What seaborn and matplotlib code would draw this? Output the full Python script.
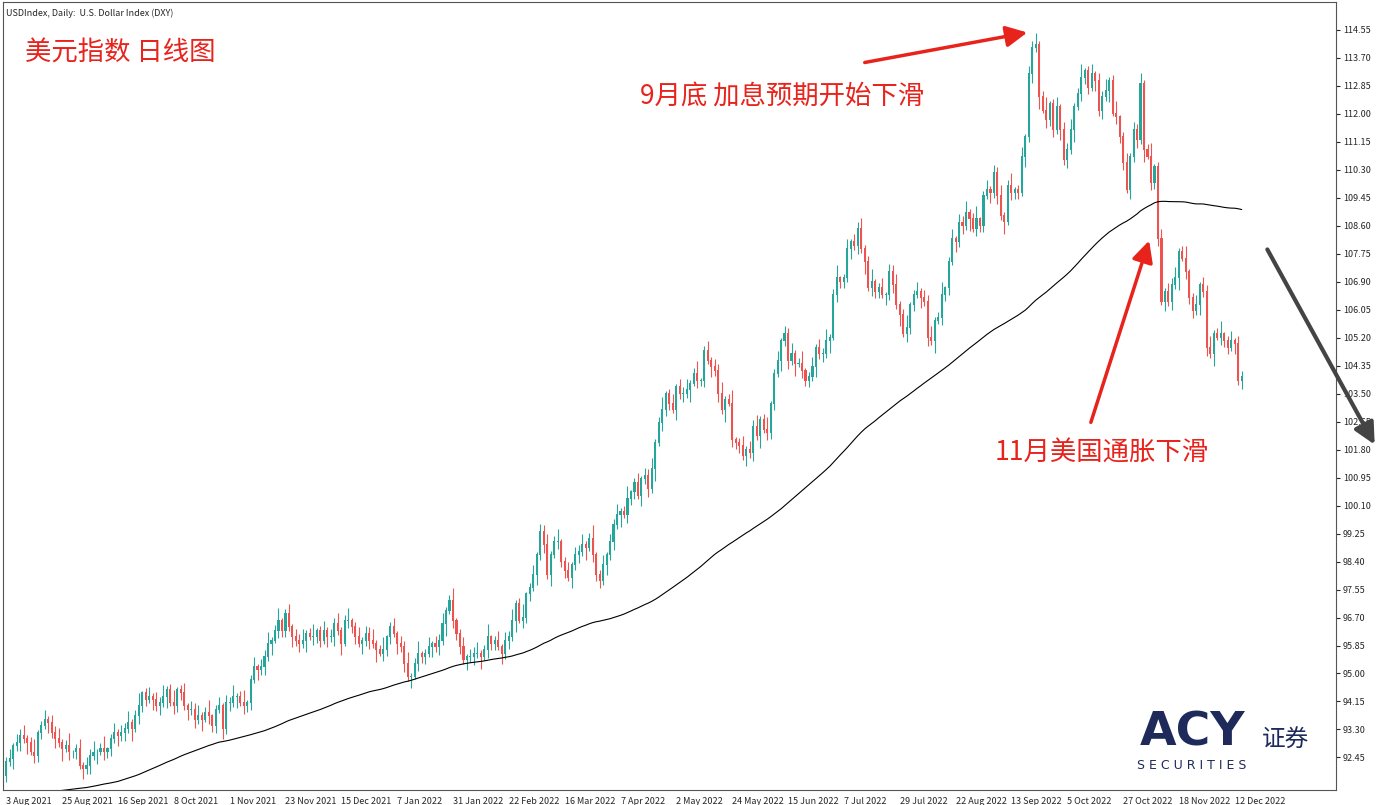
import numpy as np
import pandas as pd
import matplotlib
matplotlib.use("Agg")
import matplotlib.pyplot as plt
import seaborn as sns
from matplotlib.patches import FancyArrowPatch

# ---------------- data ----------------
history = [91.7,91.6,91.7,91.7,92.1,91.8,92.3,92.6,92.6,92.7,92.6,93.0,92.9,
           92.7,92.4,92.3,92.1,92.0,92.1,91.9,92.0,91.9,91.5,91.4,91.5,91.4,90.9,91.0,91.1,90.7,90.7,90.6,90.6,90.4,91.1,
           91.1,91.0,91.1,90.0,90.1,90.0,90.1,90.5,90.2,90.1,90.1,89.7,89.8,89.6,89.8,89.7,89.9,90.1,89.9,89.8,89.8,
           89.7,90.0,90.3,89.9,89.8,89.9,90.1,89.8,90.4,90.3,90.8,91.7,92.0,92.1,91.7,91.5,91.6,91.7,91.6,91.8,92.2,92.2,
           92.4,92.5,92.1,92.2,92.4,92.2,92.0,91.9,92.0,92.5,92.4,92.6,92.4,92.6,92.5,92.7,92.6,92.7,92.3,92.2,92.0,91.9]

closes = [
 92.3,92.4,92.8,92.9,93.1,93.0,92.9,92.6,92.5,93.2,93.4,93.6,93.5,93.2,93.0,92.9,92.7,92.8,92.6,92.6,92.7,
 92.2,92.1,92.2,92.5,92.6,92.6,92.7,92.6,92.7,93.0,93.2,93.1,93.2,93.3,93.5,93.3,93.7,94.0,94.4,94.2,94.3,94.2,
 94.0,94.1,94.3,94.5,94.1,94.0,94.5,94.4,94.0,93.9,93.9,93.6,93.7,93.6,93.8,93.7,93.4,93.9,94.0,93.3,94.1,
 94.1,94.3,94.3,94.1,94.0,94.1,94.8,95.2,95.1,95.2,95.5,95.9,96.0,96.3,96.6,96.3,96.8,96.4,96.1,96.0,95.9,96.0,
 96.2,96.1,96.1,96.3,96.0,96.3,96.1,96.1,96.5,96.3,95.9,96.6,96.6,96.4,96.1,95.9,96.0,96.2,96.0,95.9,95.7,95.6,
 95.7,96.1,96.4,96.2,95.9,95.8,95.3,94.9,94.9,95.3,95.6,95.5,95.6,95.8,95.9,95.8,96.0,96.5,96.9,97.2,96.6,
 96.2,95.8,95.4,95.5,95.5,95.6,95.6,95.5,95.7,96.1,95.9,96.0,95.8,95.6,96.0,96.1,96.6,97.1,96.6,96.7,
 97.4,97.6,98.0,98.6,99.3,98.9,98.0,98.6,99.0,99.0,98.4,98.1,97.9,98.3,98.6,98.7,98.9,98.8,99.1,98.6,98.0,97.8,98.3,
 98.6,99.0,99.5,99.8,99.9,99.8,100.3,100.5,100.8,100.4,100.9,101.0,100.6,101.2,102.0,102.6,103.0,103.5,103.2,103.0,
 103.7,103.5,103.5,103.6,103.8,104.1,103.9,103.9,104.8,104.5,104.3,104.2,103.5,103.0,103.3,103.2,102.1,102.0,101.9,101.6,101.8,101.7,
 102.5,102.2,102.7,102.4,102.3,103.2,104.1,104.5,105.1,105.3,104.5,104.7,104.4,104.4,104.2,103.9,104.0,104.3,104.9,104.7,104.7,105.1,
 105.2,106.5,107.0,106.9,107.0,107.9,108.1,108.0,108.5,107.9,107.5,106.7,106.9,106.6,106.7,106.5,106.5,107.2,106.8,106.2,105.9,
 105.3,105.5,106.2,106.5,106.6,106.4,106.3,105.2,105.1,105.7,105.8,106.5,106.7,107.5,108.2,108.1,108.7,108.6,109.0,108.8,108.5,108.8,108.6,
 109.5,109.7,109.6,110.2,109.5,108.9,108.7,109.8,109.6,109.7,109.6,110.7,111.3,113.2,114.0,114.1,112.5,112.1,111.8,112.3,111.5,112.2,
 111.5,110.6,110.9,111.5,112.2,112.6,113.1,113.3,112.8,113.2,113.0,112.1,112.5,112.7,113.0,112.0,111.9,111.3,110.5,109.7,110.7,
 111.5,111.2,112.9,110.9,110.7,109.9,110.4,108.2,106.3,106.6,106.3,106.8,107.0,107.8,107.6,107.2,106.4,106.0,106.2,106.8,106.6,104.9,
 104.7,105.3,105.2,105.3,105.1,104.9,105.1,105.0,103.9,104.0]

holidays = ["2021-12-24", "2022-04-15"]
wick_up = [0.15, 0.30, 0.10, 0.25, 0.20, 0.35, 0.12, 0.18, 0.40, 0.08]
wick_dn = [0.20, 0.10, 0.30, 0.15, 0.25, 0.12, 0.35, 0.08, 0.22, 0.18]
ma_period = 95

price_ticks = [92.45,93.30,94.15,95.00,95.85,96.70,97.55,98.40,99.25,100.10,100.95,101.80,102.65,
               103.50,104.35,105.20,106.05,106.90,107.75,108.60,109.45,110.30,111.15,112.00,112.85,113.70,114.55]

# ---------------- derived ----------------
n = len(closes)
dates = pd.bdate_range("2021-08-03", periods=n, freq="C", holidays=holidays)
idx = np.arange(n)
c = np.array(closes)
o = np.concatenate([[history[-1]], c[:-1]])
hi = np.maximum(o, c) + np.array([wick_up[i % len(wick_up)] for i in range(n)])
lo = np.minimum(o, c) - np.array([wick_dn[i % len(wick_dn)] for i in range(n)])
allc = pd.Series(history + closes)
ma = allc.rolling(ma_period).mean().values[len(history):]
df = pd.DataFrame({"i": idx, "ma": ma})

sns.set_style("white")
plt.rcParams['font.family'] = ['Noto Sans CJK SC', 'DejaVu Sans']

fig = plt.figure(figsize=(13.85, 8.05), dpi=100)
ax = fig.add_axes([0.002, 0.0186, 0.9626, 0.979])
up = c >= o
bull, bear = "#26a69a", "#ef5350"
cols = np.where(up, bull, bear)
ax.vlines(idx, lo, hi, colors=cols, linewidth=0.8)
ax.bar(idx, np.abs(c - o) + 0.03, bottom=np.minimum(o, c), width=0.6, color=cols, linewidth=0)
sns.lineplot(data=df, x="i", y="ma", ax=ax, color="black", linewidth=0.8)

ax.set_xlim(-1, 381)
ax.set_ylim(91.46, 115.4)
ax.yaxis.tick_right()
ax.set_yticks(price_ticks)
ax.set_yticklabels([f"{p:.2f}" for p in price_ticks], fontsize=6.5)
ticks = idx[::16]
ax.set_xticks(ticks)
ax.set_xticklabels([f"{d.day} {d.strftime('%b %Y')}" for d in dates[ticks]], fontsize=6.5, ha="left")
ax.tick_params(axis="both", length=3, pad=2)
ax.set_xlabel(""); ax.set_ylabel("")
for s in ax.spines.values():
    s.set_color("#555555"); s.set_linewidth(0.8)

red = "#e8231c"
fig.text(6/1385, 1-13/805, "USDIndex, Daily:  U.S. Dollar Index (DXY)", fontsize=6.5, va="center")
fig.text(25/1385, 1-53/805, "美元指数 日线图", fontsize=19, color=red, va="center")
fig.text(640/1385, 1-97/805, "9月底 加息预期开始下滑", fontsize=19, color=red, va="center")
fig.text(995/1385, 1-453/805, "11月美国通胀下滑", fontsize=19, color=red, va="center")

def farrow(x0, y0, x1, y1, color, lw):
    a = FancyArrowPatch((x0/1385, 1-y0/805), (x1/1385, 1-y1/805), transform=fig.transFigure,
                        arrowstyle=f"-|>,head_length=8,head_width=4", color=color, lw=lw, mutation_scale=1.6)
    fig.patches.append(a)
farrow(862, 63, 1030, 32, red, 2.5)
farrow(1090, 425, 1150, 238, red, 2.5)
farrow(1266, 247, 1376, 447, "#444444", 3)

fig.text(1140/1385, 1-733/805, "ACY", fontsize=34, color="#1d2a5a", fontweight="bold", va="center", family="DejaVu Sans")
fig.text(1262/1385, 1-740/805, "证券", fontsize=17, color="#1d2a5a", va="center")
fig.text(1137/1385, 1-765/805, "S E C U R I T I E S", fontsize=9, color="#1d2a5a", va="center", family="DejaVu Sans")

fig.savefig("out.png", dpi=100)
